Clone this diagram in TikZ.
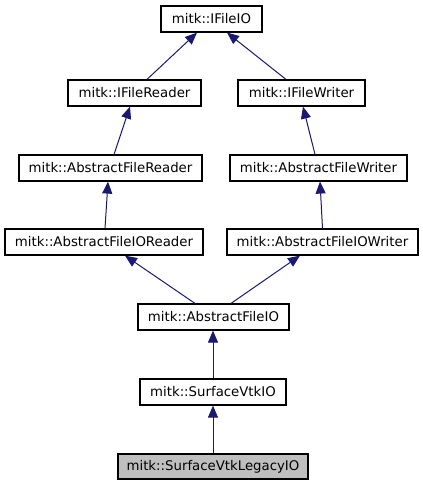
\documentclass[tikz,border=0pt]{standalone}
\usepackage{fontspec}
\setmainfont{DejaVu Sans}
\usetikzlibrary{arrows.meta}
\definecolor{edgeblue}{HTML}{191970}
\definecolor{legacygray}{HTML}{BFBFBF}
\begin{document}
\begin{tikzpicture}[x=1pt,y=-1pt,
  cls/.style={draw=black,line width=1.2pt,fill=white,minimum height=26pt,inner sep=0pt,
    font=\fontsize{13.3pt}{15pt}\selectfont},
  arr/.style={draw=edgeblue,line width=1pt,-{Triangle[length=12pt,width=10pt]}}]
\useasboundingbox (0,0) rectangle (423,485);
\node[cls,minimum width=101pt] (io) at (211.5,19) {mitk::IFileIO};
\node[cls,minimum width=133pt] (ifr) at (134.5,93) {mitk::IFileReader};
\node[cls,minimum width=127pt] (ifw) at (301.5,93) {mitk::IFileWriter};
\node[cls,minimum width=183pt] (afr) at (110.5,168) {mitk::AbstractFileReader};
\node[cls,minimum width=177pt] (afw) at (318.5,168) {mitk::AbstractFileWriter};
\node[cls,minimum width=198pt] (afior) at (104,242) {mitk::AbstractFileIOReader};
\node[cls,minimum width=191pt] (afiow) at (322.5,242) {mitk::AbstractFileIOWriter};
\node[cls,minimum width=151pt] (afio) at (213.5,317) {mitk::AbstractFileIO};
\node[cls,minimum width=146pt] (svtk) at (213,392) {mitk::SurfaceVtkIO};
\node[cls,minimum width=190pt,minimum height=25pt,fill=legacygray] (legacy) at (213,466.5) {mitk::SurfaceVtkLegacyIO};
\draw[arr] ([xshift=12.5pt]ifr.north) -- ([xshift=-14.5pt]io.south);
\draw[arr] ([xshift=-15.5pt]ifw.north) -- ([xshift=15.5pt]io.south);
\draw[arr] ([xshift=3.5pt]afr.north) -- ([xshift=-4.5pt]ifr.south);
\draw[arr] ([xshift=-3.5pt]afw.north) -- ([xshift=1.5pt]ifw.south);
\draw[arr] ([xshift=1pt]afior.north) -- ([xshift=-2.5pt]afr.south);
\draw[arr] ([xshift=0pt]afiow.north) -- ([xshift=1.5pt]afw.south);
\draw[arr] ([xshift=-18.5pt]afio.north) -- ([xshift=21pt]afior.south);
\draw[arr] ([xshift=17.5pt]afio.north) -- ([xshift=-22.5pt]afiow.south);
\draw[arr] (svtk.north) -- (afio.south -| svtk.north);
\draw[arr] (legacy.north) -- (svtk.south);
\end{tikzpicture}
\end{document}
